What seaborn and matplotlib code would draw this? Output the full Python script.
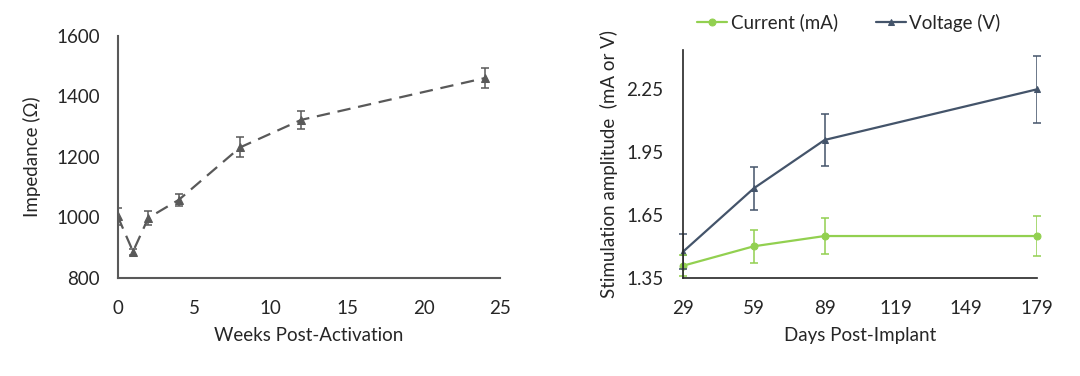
import numpy as np
import pandas as pd
import seaborn as sns
import matplotlib.pyplot as plt

# left panel: impedance over weeks
weeks = [0, 1, 2, 4, 8, 12, 24]
impedance = [1003, 887, 998, 1058, 1231, 1322, 1460]
impedance_err = [27, 10, 22, 20, 33, 30, 32]

# right panel: stimulation amplitude over days
days = [29, 59, 89, 179]
current_ma = [1.407, 1.500, 1.549, 1.549]
current_err = [0.05, 0.08, 0.085, 0.095]
voltage_v = [1.474, 1.777, 2.008, 2.250]
voltage_err = [0.083, 0.103, 0.123, 0.160]

sns.set_style("white")
plt.rcParams['font.family'] = ['Lato', 'DejaVu Sans']
plt.rcParams['font.size'] = 13.5

txt = '#262626'
gray = '#595959'
green = '#92d050'
slate = '#44546a'
fs = 13.5

fig = plt.figure(figsize=(10.8, 3.76), dpi=100)
ax1 = fig.add_axes([0.109, 0.261, 0.354, 0.644])
ax2 = fig.add_axes([0.6324, 0.2615, 0.3278, 0.6056])

# Left chart
df_imp = pd.DataFrame({'Week': weeks, 'Impedance': impedance})
sns.lineplot(data=df_imp, x='Week', y='Impedance', ax=ax1, color=gray,
             linestyle=(0, (6, 3.5)), linewidth=1.6, marker='^', markersize=6,
             markeredgecolor=gray)
ax1.errorbar(weeks, impedance, yerr=impedance_err, fmt='none',
             ecolor=gray, elinewidth=1.1, capsize=3, capthick=1.1)
ax1.set_xlim(0, 25)
ax1.set_ylim(800, 1600)
ax1.set_xticks([0, 5, 10, 15, 20, 25])
ax1.set_yticks([800, 1000, 1200, 1400, 1600])
ax1.set_xlabel('Weeks Post-Activation', color=txt, fontsize=fs, labelpad=7)
ax1.set_ylabel('Impedance (Ω)', color=txt, fontsize=fs, labelpad=11)
for s in ['top', 'right']:
    ax1.spines[s].set_visible(False)
for s in ['left', 'bottom']:
    ax1.spines[s].set_color(gray)
    ax1.spines[s].set_linewidth(1.5)
ax1.tick_params(length=0, pad=13, labelsize=fs, colors=txt)
ax1.tick_params(axis='x', pad=16)

# Right chart
df_stim = pd.DataFrame({'Day': days, 'Current': current_ma, 'Voltage': voltage_v})
sns.lineplot(data=df_stim, x='Day', y='Current', ax=ax2, color=green,
             linewidth=1.6, marker='o', markersize=5, markeredgecolor=green,
             label='Current (mA)', legend=False)
sns.lineplot(data=df_stim, x='Day', y='Voltage', ax=ax2, color=slate,
             linewidth=1.6, marker='^', markersize=5, markeredgecolor=slate,
             label='Voltage (V)', legend=False)
ax2.errorbar(days, current_ma, yerr=current_err, fmt='none',
             ecolor=green, elinewidth=1.1, capsize=3, capthick=1.1)
ax2.errorbar(days, voltage_v, yerr=voltage_err, fmt='none',
             ecolor=slate, elinewidth=1.1, capsize=3, capthick=1.1)
ax2.set_xlim(29, 179)
ax2.set_ylim(1.35, 2.438)
ax2.set_xticks([29, 59, 89, 119, 149, 179])
ax2.set_yticks([1.35, 1.65, 1.95, 2.25])
ax2.set_yticklabels(['1.35', '1.65', '1.95', '2.25'])
ax2.set_xlabel('Days Post-Implant', color=txt, fontsize=fs, labelpad=7)
ax2.set_ylabel('Stimulation amplitude  (mA or V)', color=txt, fontsize=fs, labelpad=6)
for s in ['top', 'right']:
    ax2.spines[s].set_visible(False)
for s in ['left', 'bottom']:
    ax2.spines[s].set_color('#262626')
    ax2.spines[s].set_linewidth(1.2)
ax2.tick_params(length=0, pad=14, labelsize=fs, colors=txt)
ax2.tick_params(axis='x', pad=16)
for ln in ax2.lines:
    ln.set_clip_on(False)

handles, labels = ax2.get_legend_handles_labels()
fig.legend(handles, labels, loc='center', bbox_to_anchor=(0.786, 0.94),
           ncol=2, frameon=False, fontsize=fs, handlelength=1.6,
           handletextpad=0.2, columnspacing=2.0, labelcolor=txt)

fig.savefig('out.png', dpi=100, facecolor='white')
